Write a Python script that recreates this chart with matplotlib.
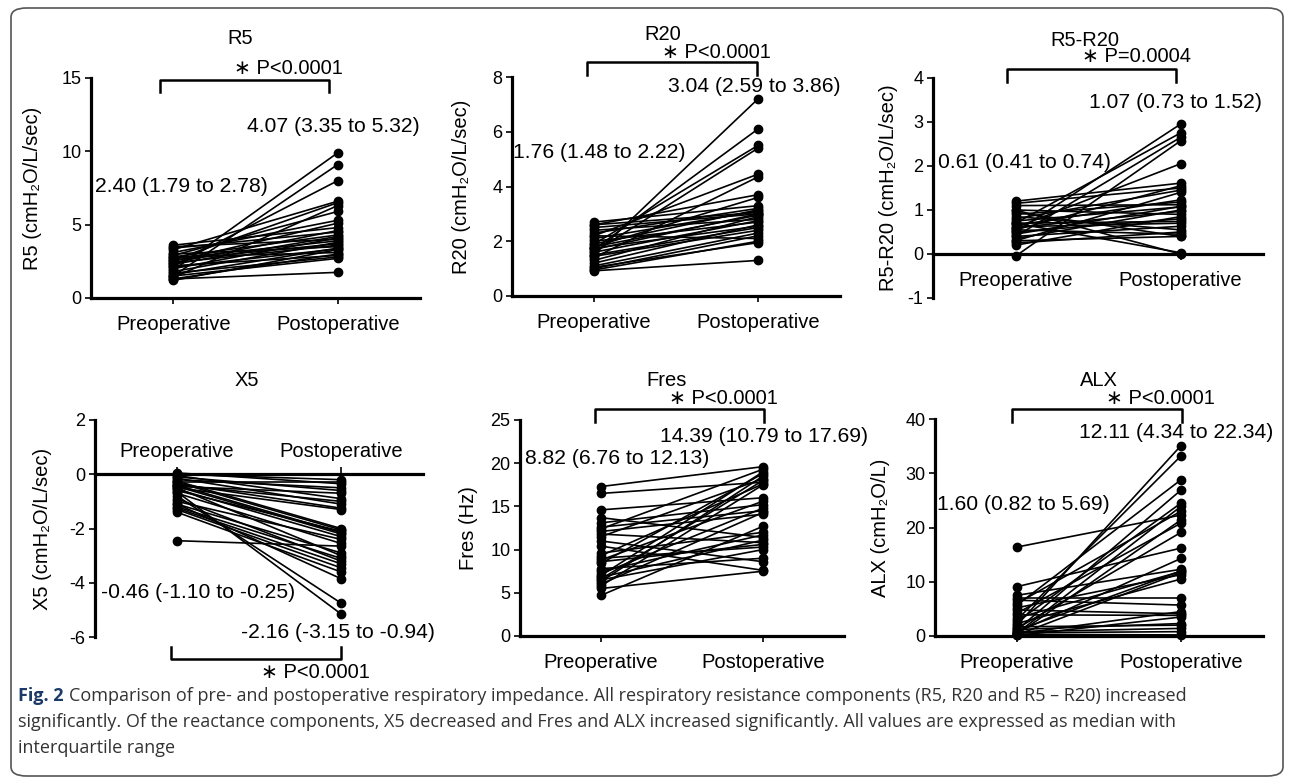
import matplotlib
matplotlib.use("Agg")
import matplotlib.pyplot as plt
from matplotlib.lines import Line2D
from matplotlib.patches import FancyBboxPatch

plt.rcParams["font.family"] = ["Liberation Sans", "DejaVu Sans"]
plt.rcParams["axes.unicode_minus"] = False

W, H = 1292, 780

groups = ["Preoperative", "Postoperative"]

# per-subject values (pre, post)
r5_pre = [1.9, 1.5, 2.2, 3.3, 2.6, 1.4, 2.9, 3.1, 2.5, 3.6, 2.4, 3.4, 2.8, 2.3, 2.0,
          3.5, 2.7, 1.8, 2.6, 2.4, 3.0, 1.6, 2.1, 1.2, 2.8, 1.3, 2.2, 1.7, 1.5, 1.3]
r5_post = [9.9, 9.1, 8.0, 6.6, 6.5, 6.3, 5.9, 5.3, 5.1, 4.8, 4.6, 4.5, 4.3, 4.2, 4.1,
           4.0, 3.9, 3.8, 3.7, 3.6, 3.5, 3.4, 3.35, 3.3, 3.1, 3.0, 2.9, 2.8, 2.7, 1.75]

r20_pre = [1.5, 1.7, 1.9, 1.6, 2.2, 1.4, 2.6, 1.8, 2.7, 2.3, 1.9, 2.1, 2.6, 1.7, 2.5,
           1.8, 1.3, 2.4, 1.6, 2.0, 1.2, 1.75, 1.5, 1.45, 1.1, 1.0, 2.2, 0.95, 1.05, 0.92]
r20_post = [7.2, 6.1, 5.5, 5.4, 4.45, 4.35, 3.7, 3.6, 3.3, 3.2, 3.15, 3.1, 3.05, 3.0, 3.0,
            2.95, 2.9, 2.8, 2.75, 2.7, 2.6, 2.55, 2.5, 2.4, 2.3, 2.2, 2.1, 2.0, 1.95, 1.3]

r5r20_pre = [0.5, 0.7, 0.4, -0.05, 0.6, 1.2, 0.55, 1.15, 0.8, 0.3, 0.65, 0.9, 1.1, 0.45, 0.75,
             0.35, 0.6, 1.0, 0.2, 0.5, 0.7, 0.62, 0.4, 0.85, 0.25, 0.55, 0.95, 0.3, 0.7, 1.0]
r5r20_post = [2.95, 2.75, 2.65, 2.57, 2.05, 1.61, 1.55, 1.5, 1.45, 1.4, 1.23, 1.18, 1.12, 1.08, 1.07,
              1.0, 0.97, 0.9, 0.85, 0.8, 0.74, 0.7, 0.63, 0.55, 0.5, 0.45, 0.4, 0.4, 0.03, 0.0]

x5_pre = [0.0, -0.3, 0.05, -0.2, -0.1, -0.45, -0.05, -0.4, -0.15, -0.35, -0.5, -0.25, -0.3, -0.6, -0.4,
          -0.45, -0.55, -1.0, -0.7, -1.1, -0.5, -1.2, -0.9, -1.25, -1.3, -1.4, -1.1, -0.8, -0.65, -2.45]
x5_post = [-0.2, -0.3, -0.35, -0.5, -0.6, -0.7, -0.9, -1.0, -1.1, -1.25, -1.3, -2.0, -2.05, -2.1, -2.15,
           -2.2, -2.3, -2.4, -2.55, -2.9, -3.0, -3.1, -3.2, -3.3, -3.45, -3.6, -3.85, -4.75, -5.15, -2.65]

fres_pre = [17.3, 12.4, 7.0, 8.4, 6.3, 11.5, 6.6, 16.5, 9.3, 5.8, 14.6, 8.8, 13.1, 7.2, 12.6,
            6.0, 12.1, 4.7, 9.6, 7.5, 13.7, 6.8, 11.8, 8.6, 9.0, 6.5, 7.8, 11.0, 10.4, 5.5]
fres_post = [19.6, 19.3, 19.0, 18.8, 18.5, 18.2, 18.0, 17.8, 17.6, 17.5, 16.0, 15.6, 15.2, 14.8, 14.5,
             14.3, 14.1, 12.7, 12.0, 11.7, 11.4, 11.1, 10.8, 10.6, 10.3, 10.0, 9.0, 8.6, 7.6, 7.5]

alx_pre = [2.0, 3.0, 5.7, 1.1, 2.6, 0.5, 6.0, 16.4, 0.3, 4.2, 1.4, 9.1, 0.7, 7.5, 1.0,
           3.3, 0.2, 5.2, 2.3, 7.0, 6.6, 0.4, 4.8, 3.9, 0.1, 1.2, 1.7, 0.8, 0.6, 0.3]
alx_post = [35.1, 33.2, 28.8, 26.9, 24.5, 23.9, 23.0, 22.3, 21.4, 20.8, 19.1, 16.2, 14.3, 12.3, 12.0,
            11.9, 11.7, 11.3, 10.5, 7.0, 5.7, 4.5, 4.1, 3.8, 3.5, 2.3, 2.0, 1.4, 0.8, 0.2]

titles = ["R5", "R20", "R5-R20", "X5", "Fres", "ALX"]
ylabels = ["R5 (cmH₂O/L/sec)", "R20 (cmH₂O/L/sec)", "R5-R20 (cmH₂O/L/sec)",
           "X5 (cmH₂O/L/sec)", "Fres (Hz)", "ALX (cmH₂O/L)"]
pre_stats = ["2.40 (1.79 to 2.78)", "1.76 (1.48 to 2.22)", "0.61 (0.41 to 0.74)",
             "-0.46 (-1.10 to -0.25)", "8.82 (6.76 to 12.13)", "1.60 (0.82 to 5.69)"]
post_stats = ["4.07 (3.35 to 5.32)", "3.04 (2.59 to 3.86)", "1.07 (0.73 to 1.52)",
              "-2.16 (-3.15 to -0.94)", "14.39 (10.79 to 17.69)", "12.11 (4.34 to 22.34)"]
p_texts = ["∗ P<0.0001", "∗ P<0.0001", "∗ P=0.0004", "∗ P<0.0001", "∗ P<0.0001", "∗ P<0.0001"]
ylims = [(0, 15), (0, 8), (-1, 4), (-6, 2), (0, 25), (0, 40)]
yticks = [[0, 5, 10, 15], [0, 2, 4, 6, 8], [-1, 0, 1, 2, 3, 4], [-6, -4, -2, 0, 2],
          [0, 5, 10, 15, 20, 25], [0, 10, 20, 30, 40]]

pre_all = [r5_pre, r20_pre, r5r20_pre, x5_pre, fres_pre, alx_pre]
post_all = [r5_post, r20_post, r5r20_post, x5_post, fres_post, alx_post]

# layout in pixels: axes box (left, top, right, bottom)
boxes = [(91, 78, 420, 298), (512, 77, 840, 296), (933, 78, 1263, 298),
         (95, 420, 423, 637), (520, 420, 844, 636), (935, 419, 1263, 636)]
ylab_x = [-0.148, -0.125, -0.105, -0.13, -0.13, -0.136]
# title, p-text, pre stat (left,y), post stat (right,y), bracket (x0, x1, y, stem y)
title_pos = [(240, 38), (663, 35), (1085, 40), (247, 380), (667, 380), (1099, 380)]
p_pos = [(288, 68), (716, 53), (1136, 57), (315, 673), (723, 398), (1160, 398)]
pre_pos = [(95, 187), (513, 152), (938, 163), (101, 593), (525, 458), (937, 504)]
post_pos = [(420, 126), (840, 86), (1262, 102), (435, 632), (868, 436), (1273, 432)]
brackets = [(160, 329, 80, 92), (587, 757, 62, 75), (1007, 1176, 69, 82),
            (171, 341, 659, 647), (595, 764, 409, 422), (1012, 1182, 409, 422)]

FS = 14.5
AFS = 15.2

fig = plt.figure(figsize=(W / 100, H / 100), dpi=100)


def fx(x):
    return x / W


def fy(y):
    return 1 - y / H


for i in range(6):
    l, t, r, b = boxes[i]
    ax = fig.add_axes([fx(l), fy(b), (r - l) / W, (b - t) / H])
    for s in ["top", "right"]:
        ax.spines[s].set_visible(False)
    if titles[i] in ("R5-R20", "X5"):
        ax.spines["bottom"].set_position(("data", 0))
    for s in ["left", "bottom"]:
        ax.spines[s].set_linewidth(2.3)
    for a, c in zip(pre_all[i], post_all[i]):
        ax.plot([1, 2], [a, c], "-", color="black", lw=1.2, marker="o", ms=6,
                clip_on=False, zorder=3)
    ax.set_xlim(0.5, 2.5)
    ax.set_ylim(*ylims[i])
    ax.set_yticks(yticks[i])
    ax.set_xticks([1, 2])
    ax.set_xticklabels(groups)
    ax.tick_params(axis="y", labelsize=13, length=4, width=1.2, pad=3)
    ax.tick_params(axis="x", labelsize=FS, length=4, width=1.2, pad=8)
    if titles[i] == "X5":
        ax.tick_params(axis="x", direction="in", length=5, pad=-23)
    ax.set_ylabel(ylabels[i], fontsize=FS)
    ax.yaxis.set_label_coords(ylab_x[i], 0.5)

    fig.text(fx(title_pos[i][0]), fy(title_pos[i][1]), titles[i], fontsize=FS,
             ha="center", va="center")
    fig.text(fx(p_pos[i][0]), fy(p_pos[i][1]), p_texts[i], fontsize=FS,
             ha="center", va="center")
    fig.text(fx(pre_pos[i][0]), fy(pre_pos[i][1]), pre_stats[i], fontsize=AFS,
             ha="left", va="center")
    fig.text(fx(post_pos[i][0]), fy(post_pos[i][1]), post_stats[i], fontsize=AFS,
             ha="right", va="center")
    x0, x1, yb, ys = brackets[i]
    fig.add_artist(Line2D([fx(x0), fx(x0), fx(x1), fx(x1)], [fy(ys), fy(yb), fy(yb), fy(ys)],
                          color="black", lw=1.8))

# frame around the figure
fig.add_artist(FancyBboxPatch((fx(11), fy(776)), (1272) / W, (768) / H,
                              boxstyle="round,pad=0,rounding_size=0.012",
                              transform=fig.transFigure, fill=False,
                              edgecolor="#555555", lw=1.2))

# caption
cap_font = ["Open Sans", "DejaVu Sans"]
cap_fs = 13
lbl = fig.text(fx(18), fy(696), "Fig. 2", fontsize=cap_fs, fontweight="bold",
               family=cap_font, color="#1b3a66", va="center")
fig.canvas.draw()
bb = lbl.get_window_extent()
fig.text((bb.x1 + 5) / W, fy(696),
         "Comparison of pre- and postoperative respiratory impedance. All respiratory "
         "resistance components (R5, R20 and R5 – R20) increased",
         fontsize=cap_fs, family=cap_font, color="#333333", va="center")
fig.text(fx(18), fy(722),
         "significantly. Of the reactance components, X5 decreased and Fres and ALX "
         "increased significantly. All values are expressed as median with",
         fontsize=cap_fs, family=cap_font, color="#333333", va="center")
fig.text(fx(18), fy(748), "interquartile range",
         fontsize=cap_fs, family=cap_font, color="#333333", va="center")

fig.savefig("out.png", dpi=100)
